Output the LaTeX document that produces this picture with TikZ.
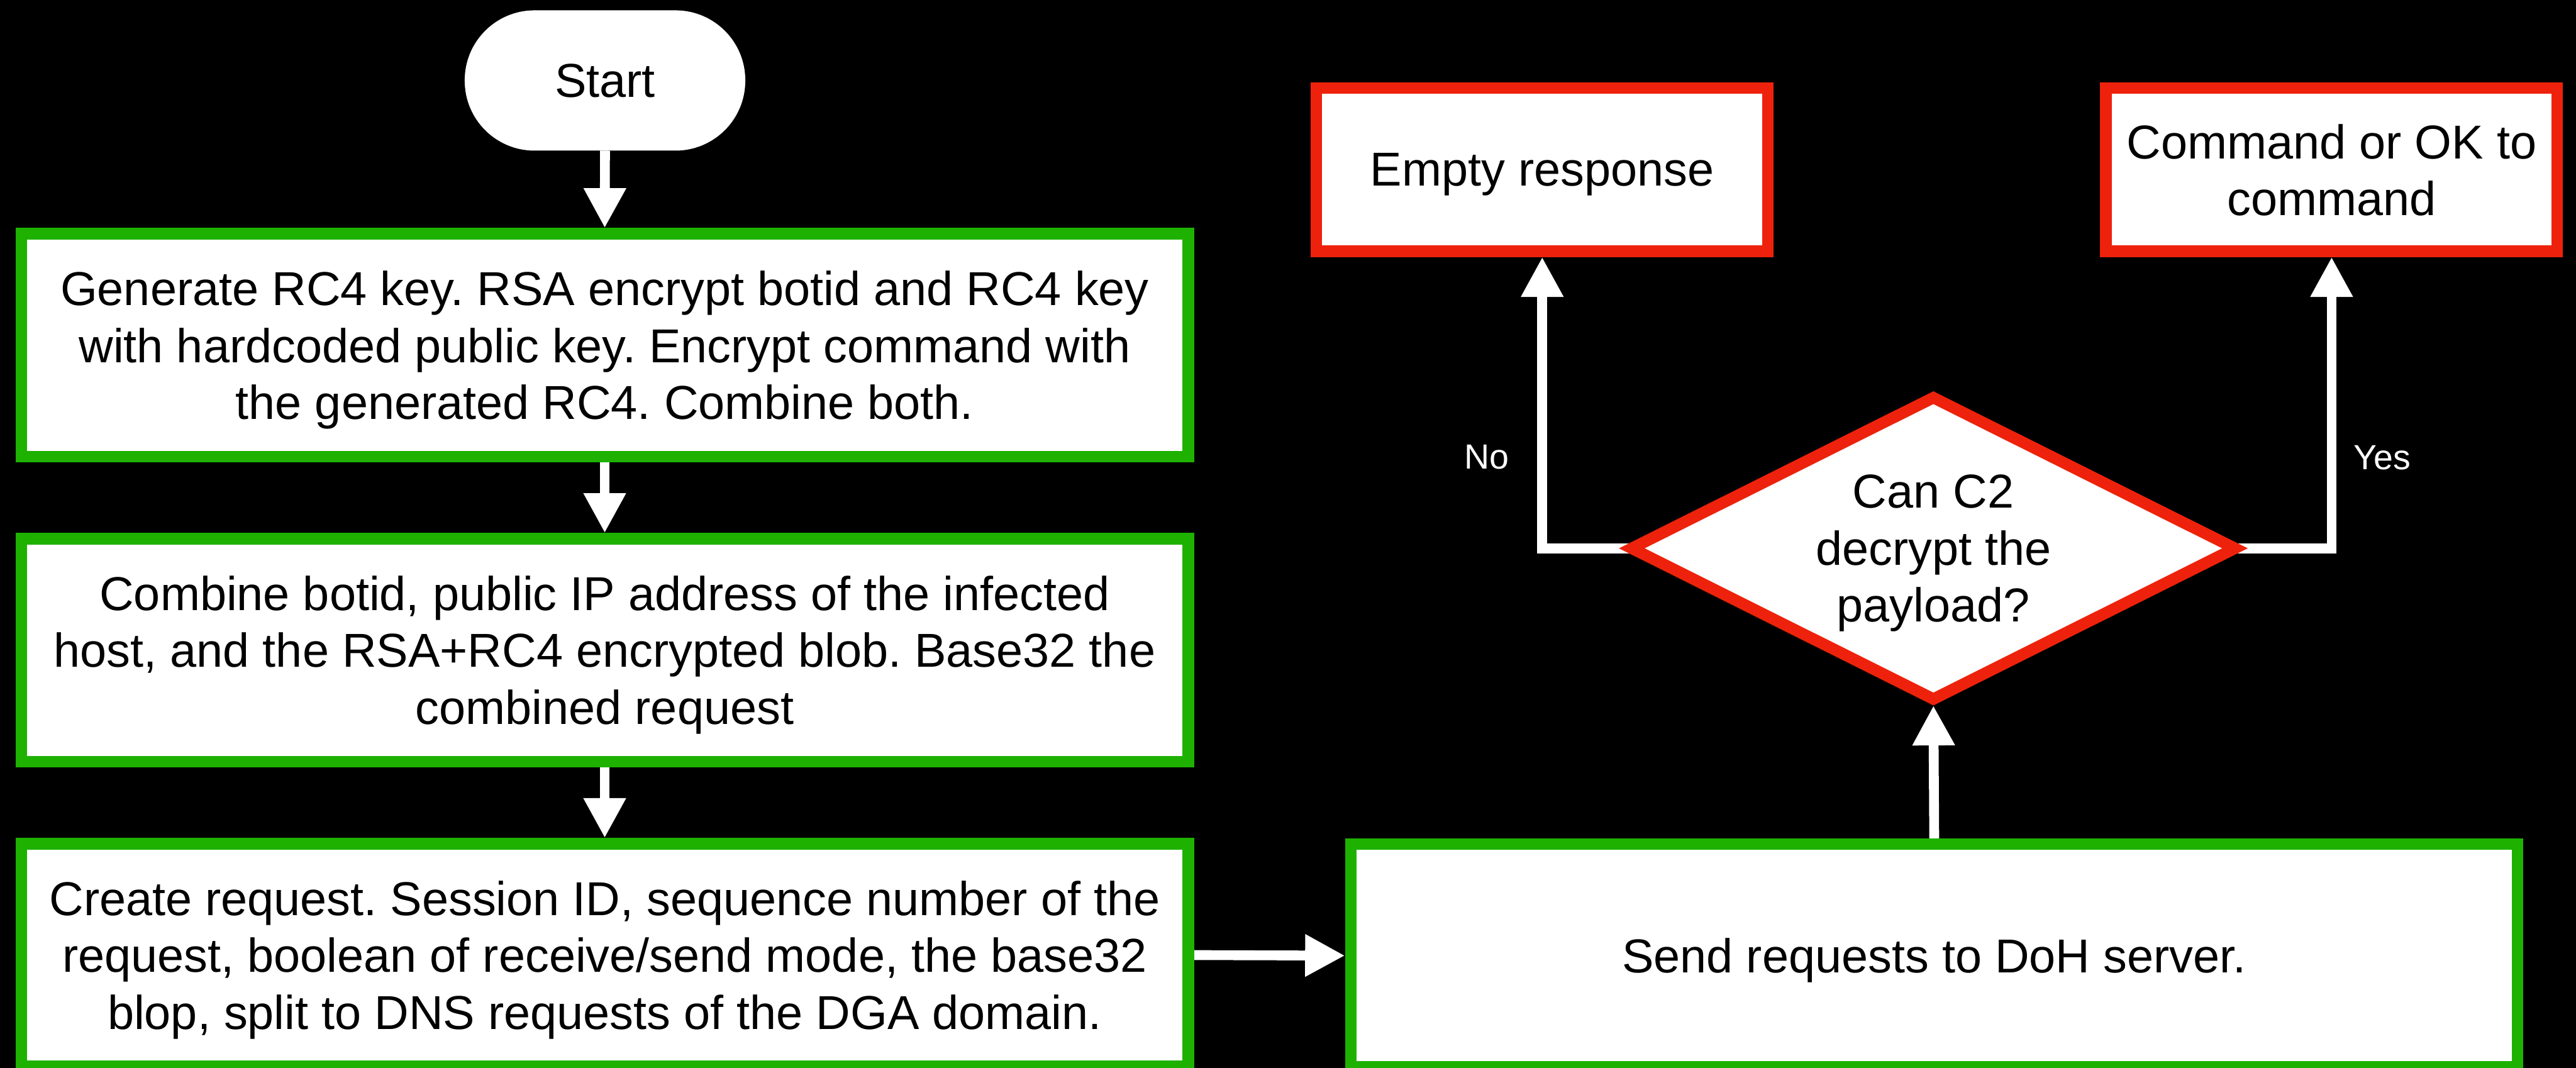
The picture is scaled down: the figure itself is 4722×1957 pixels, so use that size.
\documentclass[tikz,border=0pt]{standalone}
\usepackage{fontspec}
\setmainfont{Liberation Sans}
\frenchspacing
\usetikzlibrary{arrows.meta,shapes.geometric}
\definecolor{boxgreen}{RGB}{30,177,0}
\definecolor{boxred}{RGB}{238,34,12}
\pgfdeclarelayer{bg}
\pgfdeclarelayer{conn}
\pgfsetlayers{bg,conn,main}
\begin{document}
\begin{tikzpicture}[x=0.01cm,y=-0.01cm,
  txt/.style={font=\fontsize{24.8}{29.6}\selectfont\frenchspacing, align=center, text=black, text depth=0pt},
  greenbox/.style={txt, draw=boxgreen, fill=white, line width=0.21cm, minimum width=21.38cm, minimum height=4.08cm, inner sep=0pt, outer sep=0.105cm},
  redbox/.style={txt, draw=boxred, fill=white, line width=0.21cm, minimum width=8.27cm, minimum height=2.99cm, inner sep=0pt, outer sep=0.105cm},
  startnode/.style={txt, fill=white, rounded corners=1.28cm, minimum width=5.14cm, minimum height=2.57cm, inner sep=0pt, outer sep=0pt},
  decision/.style={txt, diamond, aspect=2, draw=boxred, fill=white, line width=0.21cm, minimum width=11.05cm, minimum height=5.52cm, inner sep=0pt, outer sep=0pt},
  flow/.style={draw=white, line width=0.18cm, -{Triangle[length=0.73cm,width=0.73cm]}},
  lbl/.style={font=\fontsize{18.2}{22}\selectfont, text=white}]
\useasboundingbox (0,0) rectangle (4722,1957);
\begin{pgfonlayer}{bg}
\fill[black] (0,0) rectangle (4722,1957);
\end{pgfonlayer}
\node[startnode] (start) at (1109,147.5) {Start};
\node[greenbox] (b1) at (1108.5,632.5) {Generate RC4 key. RSA encrypt botid and RC4 key\\with hardcoded public key. Encrypt command with\\the generated RC4. Combine both.};
\node[greenbox] (b2) at (1108.5,1191.5) {Combine botid, public IP address of the infected\\host, and the RSA+RC4 encrypted blob. Base32 the\\combined request};
\node[greenbox] (b3) at (1108.5,1750.5) {Create request. Session ID, sequence number of the\\request, boolean of receive/send mode, the base32\\blop, split to DNS requests of the DGA domain.};
\node[greenbox] (doh) at (3545.5,1751.5) {Send requests to DoH server.};
\node[decision] (dec) at (3544,1005) {Can C2\\decrypt the\\payload?};
\node[redbox] (empty) at (2827,311) {Empty response};
\node[redbox] (cmd) at (4274,311) {Command or OK to\\command};
\node[lbl] (no) at (2725,838) {No};
\node[lbl] (yes) at (4367,839) {Yes};
\begin{pgfonlayer}{conn}
\draw[flow] (start.south) -- (b1.north);
\draw[flow] (b1.south) -- (b2.north);
\draw[flow] (b2.south) -- (b3.north);
\draw[flow] (b3.east) -- (doh.west);
\draw[flow, shorten >=0.12cm] (doh.north) -- (dec.south);
\draw[flow] (dec.west) -| (empty.south);
\draw[flow] (dec.east) -| (cmd.south);
\end{pgfonlayer}
\end{tikzpicture}
\end{document}
